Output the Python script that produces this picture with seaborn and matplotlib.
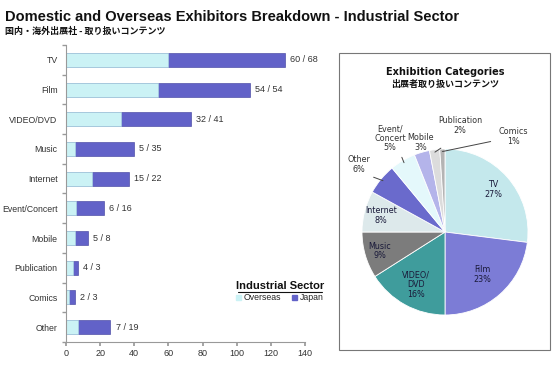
import numpy as np
import pandas as pd
import matplotlib
matplotlib.use("Agg")
import matplotlib.pyplot as plt
import seaborn as sns
from matplotlib.patches import Rectangle, Patch

categories = ["TV", "Film", "VIDEO/DVD", "Music", "Internet", "Event/Concert",
              "Mobile", "Publication", "Comics", "Other"]
overseas = [60, 54, 32, 5, 15, 6, 5, 4, 2, 7]
japan = [68, 54, 41, 35, 22, 16, 8, 3, 3, 19]
x_ticks = [0, 20, 40, 60, 80, 100, 120, 140]

pie_labels = ["TV", "Film", "VIDEO/\nDVD", "Music", "Internet", "Other",
              "Event/\nConcert", "Mobile", "Publication", "Comics"]
pie_values = [27, 23, 16, 9, 8, 6, 5, 3, 2, 1]
pie_colors = ["#c4e8ec", "#7c7cd6", "#3f9c9c", "#7c7c7c", "#dde9eb",
              "#6a6acc", "#e4f8fb", "#b4b4ea", "#dcdcdc", "#b4b4b4"]

sns.set_theme(style="white")
plt.rcParams['font.family'] = ['Liberation Sans', 'DejaVu Sans', 'Noto Sans CJK JP']

W, H = 558, 365
fig = plt.figure(figsize=(W / 100, H / 100), dpi=100)
fig.patch.set_facecolor("white")

def fx(px):
    return px / W

def fy(py):
    return 1 - py / H

# Titles
fig.text(fx(5), fy(17), "Domestic and Overseas Exhibitors Breakdown - Industrial Sector",
         fontsize=10.5, fontweight="bold", family=["Liberation Sans", "DejaVu Sans"],
         va="center", ha="left", color="#111111")
fig.text(fx(5), fy(31), "国内・海外出展社 - 取り扱いコンテンツ",
         fontsize=6.5, fontweight="bold", family=["Noto Sans CJK JP", "DejaVu Sans"],
         va="center", ha="left", color="#111111")

# Bar chart
ax = fig.add_axes([fx(66), fy(342), fx(305) - fx(66), fy(45) - fy(342)])
df = pd.DataFrame({"cat": categories, "overseas": overseas, "japan": japan})
df["total"] = df["overseas"] + df["japan"]
sns.barplot(data=df, x="total", y="cat", color="#6262c8", saturation=1,
            width=0.47, ax=ax, edgecolor="#3a3a9a", linewidth=0.4)
sns.barplot(data=df, x="overseas", y="cat", color="#cbf2f5", saturation=1,
            width=0.47, ax=ax, edgecolor="#b0dde2", linewidth=0.4)
ax.set_xlim(0, 140)
ax.set_ylim(9.5, -0.5)
ax.set_xticks(x_ticks)
ax.set_xticklabels([str(t) for t in x_ticks], fontsize=6.5, color="#333333")
ax.set_xlabel("")
ax.set_ylabel("")
ax.tick_params(axis="y", length=0, labelsize=6.3, labelcolor="#333333", pad=6)
ax.tick_params(axis="x", length=3, color="#999999", pad=2, direction="out", bottom=True)
ax.set_yticks(np.arange(-0.5, 10.5, 1), minor=True)
ax.tick_params(axis="y", which="minor", length=3, color="#999999", left=True)
for s in ["top", "right"]:
    ax.spines[s].set_visible(False)
for s in ["left", "bottom"]:
    ax.spines[s].set_color("#999999")
    ax.spines[s].set_linewidth(0.8)
for i, (o, j) in enumerate(zip(overseas, japan)):
    ax.text(o + j + 3, i, f"{o} / {j}", fontsize=6.5, va="center", ha="left",
            color="#333333")

# Legend
fig.text(fx(280), fy(286), "Industrial Sector", fontsize=8, fontweight="bold",
         ha="center", va="center", color="#111111")
fig.add_artist(plt.Line2D([fx(238), fx(322)], [fy(292), fy(292)], color="#111111", lw=0.8))
leg = fig.legend(handles=[Patch(color="#cbf2f5", label="Overseas"),
                          Patch(color="#6262c8", label="Japan")],
                 loc="center", bbox_to_anchor=(fx(280), fy(298)), ncol=2, frameon=False,
                 fontsize=6.3, handlelength=0.6, handleheight=0.6, handletextpad=0.3,
                 columnspacing=1.2, borderpad=0)

# Pie box
fig.add_artist(Rectangle((fx(339), fy(350)), fx(550) - fx(339), fy(53) - fy(350),
                         transform=fig.transFigure, fill=False, edgecolor="#777777", lw=0.8))
fig.text(fx(445), fy(72), "Exhibition Categories", fontsize=7, fontweight="bold",
         family=["DejaVu Sans"], ha="center", va="center", color="#111111")
fig.text(fx(445), fy(84), "出展者取り扱いコンテンツ", fontsize=6.5, fontweight="bold",
         family=["Noto Sans CJK JP", "DejaVu Sans"], ha="center", va="center", color="#111111")

cx, cy, r = 445, 232, 83
pax = fig.add_axes([fx(cx - r), fy(cy + r), fx(2 * r), 2 * r / H])
wedges, _ = pax.pie(pie_values, colors=pie_colors, startangle=90, counterclock=False,
                    radius=1, wedgeprops=dict(edgecolor="white", linewidth=0.6))
pax.set_xlim(-1, 1)
pax.set_ylim(-1, 1)
pax.set_aspect("auto")
pax.axis("off")

inside = {0: 0.77, 1: 0.68, 2: 0.72, 3: 0.82, 4: 0.8}
outside = {5: (-1.04, 0.81, -0.86, 0.66), 6: (-0.66, 1.13, -0.52, 0.90),
           7: (-0.29, 1.08, None, None), 8: (0.18, 1.28, -0.05, 1.01),
           9: (0.82, 1.15, 0.55, 1.09)}
for i, w in enumerate(wedges):
    ang = np.deg2rad((w.theta1 + w.theta2) / 2)
    txt = f"{pie_labels[i]}\n{pie_values[i]}%"
    if i in inside:
        d = inside[i]
        pax.text(d * np.cos(ang), d * np.sin(ang), txt, ha="center", va="center",
                 fontsize=5.8, color="#1a1a3a", linespacing=1.1, family=["DejaVu Sans"])
    else:
        tx, ty, lx, ly = outside[i]
        pax.text(tx, ty, txt, ha="center", va="center", fontsize=5.8,
                 color="#333333", linespacing=1.1, family=["DejaVu Sans"])
        if lx is not None:
            ex, ey = 0.97 * np.cos(ang), 0.97 * np.sin(ang)
            pax.plot([lx, ex], [ly, ey], color="#444444", lw=0.7, clip_on=False)

fig.savefig("out.png", dpi=100, facecolor="white")
